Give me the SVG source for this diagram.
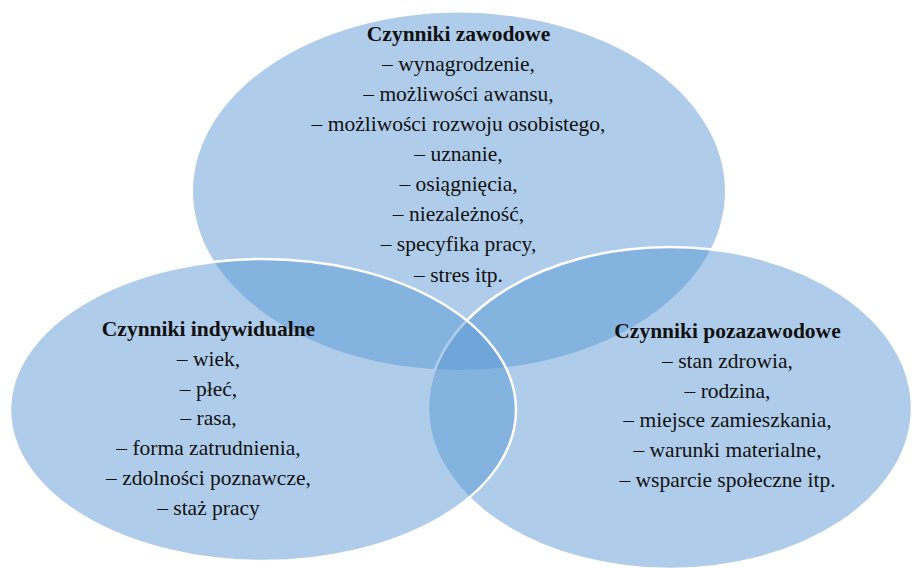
<svg xmlns="http://www.w3.org/2000/svg" width="913" height="568" viewBox="0 0 913 568">
<style>
.e{fill:#5796D3;fill-opacity:0.475}
.s{stroke:#FFFFFF;stroke-width:2.5}
.t text{font-size:21.5px;fill:#111;text-anchor:middle}
.h{font-weight:bold}
</style>
<rect width="913" height="568" fill="#FFFFFF"/>
<g id="zawodowe">
<ellipse class="e" cx="459" cy="191.3" rx="266" ry="178.7"/>
</g>
<g id="pozazawodowe">
<ellipse class="e s" cx="670" cy="408" rx="242" ry="161"/>
</g>
<g id="indywidualne">
<ellipse class="e s" cx="263" cy="410" rx="253" ry="151"/>
</g>
<g class="t" font-family="Liberation Serif, Times New Roman, DejaVu Serif, serif">
<g id="labels-zawodowe">
<text class="h" x="458.5" y="40.7">Czynniki zawodowe</text>
<text x="458.5" y="70.8">– wynagrodzenie,</text>
<text x="458.5" y="100.9">– możliwości awansu,</text>
<text x="458.5" y="131">– możliwości rozwoju osobistego,</text>
<text x="458.5" y="161.1">– uznanie,</text>
<text x="458.5" y="191.2">– osiągnięcia,</text>
<text x="458.5" y="221.3">– niezależność,</text>
<text x="458.5" y="251.4">– specyfika pracy,</text>
<text x="458.5" y="281.5">– stres itp.</text>
</g>
<g id="labels-indywidualne">
<text class="h" x="208.5" y="336">Czynniki indywidualne</text>
<text x="208.5" y="365.8">– wiek,</text>
<text x="208.5" y="395.6">– płeć,</text>
<text x="208.5" y="425.4">– rasa,</text>
<text x="208.5" y="455.2">– forma zatrudnienia,</text>
<text x="208.5" y="485">– zdolności poznawcze,</text>
<text x="208.5" y="514.8">– staż pracy</text>
</g>
<g id="labels-pozazawodowe">
<text class="h" x="727.5" y="338">Czynniki pozazawodowe</text>
<text x="727.5" y="367.8">– stan zdrowia,</text>
<text x="727.5" y="397.6">– rodzina,</text>
<text x="727.5" y="427.4">– miejsce zamieszkania,</text>
<text x="727.5" y="457.2">– warunki materialne,</text>
<text x="727.5" y="487">– wsparcie społeczne itp.</text>
</g>
</g>
</svg>
